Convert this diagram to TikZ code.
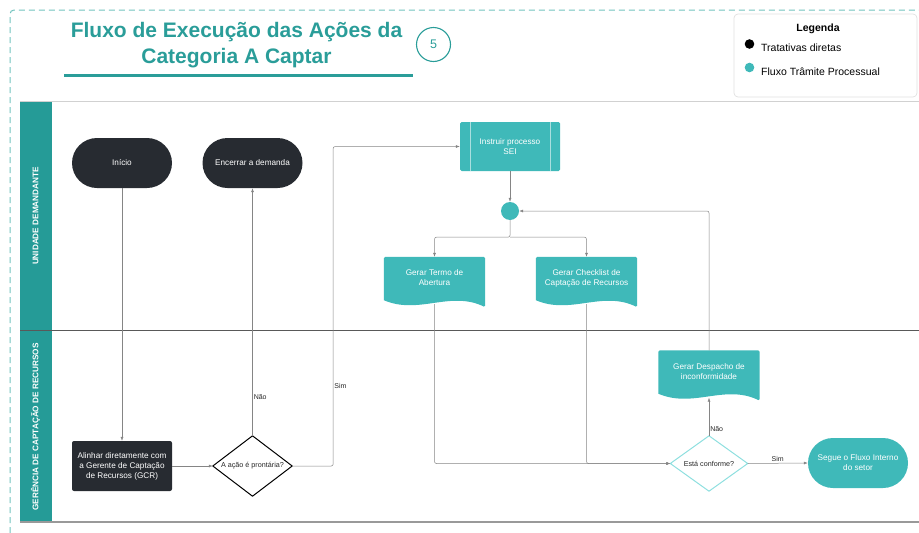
\documentclass[tikz,border=0pt]{standalone}
\usepackage{fontspec}
\setmainfont{Liberation Sans}
\usetikzlibrary{calc,arrows.meta,backgrounds}

\definecolor{tealdark}{HTML}{259B97}
\definecolor{tealnode}{HTML}{3FB9B9}
\definecolor{tealtitle}{HTML}{2A9D99}
\definecolor{tealdash}{HTML}{72C3BE}
\definecolor{tealedge}{HTML}{8EDFDF}
\definecolor{darknode}{HTML}{272B31}
\definecolor{conngray}{HTML}{858585}

\begin{document}
\begin{tikzpicture}[x=1pt,y=-1pt]
  % overall canvas
  \useasboundingbox (0,0) rectangle (919,533);

  % styles
  \tikzset{
    txt/.style={font=\fontsize{8.2}{10}\selectfont,text=white,align=center,inner sep=0pt},
    darkpill/.style={txt,fill=darknode,minimum width=100pt,minimum height=50pt,rounded corners=25pt},
    tealpill/.style={txt,fill=tealnode,minimum width=100pt,minimum height=50pt,rounded corners=25pt},
    darkbox/.style={txt,fill=darknode,minimum width=100pt,minimum height=50pt,rounded corners=2pt},
    procbox/.style={txt,fill=tealnode,minimum width=100pt,minimum height=49pt,rounded corners=1.5pt},
    docbox/.style={txt,minimum width=101pt,minimum height=42pt},
    dia/.style={font=\fontsize{7.2}{9}\selectfont,text=black!85,inner sep=0pt},
    lane/.style={font=\fontsize{8.2}{10}\selectfont\bfseries,text=white,rotate=90},
    conn/.style={draw=conngray,line width=0.5pt,rounded corners=2pt,-{Latex[length=4pt,width=3pt]}},
    lbl/.style={font=\fontsize{7}{8}\selectfont,text=black!85,inner sep=1pt},
    leg/.style={font=\fontsize{10.5}{12}\selectfont,anchor=west,inner sep=0pt},
  }

  % dashed outer frame
  \draw[tealdash,line width=1pt,dash pattern=on 6pt off 4pt,rounded corners=4pt]
    (10,533) -- (10,10) -- (919,10);

  % title
  \node[font=\fontsize{21}{26}\selectfont\bfseries,text=tealtitle,anchor=base] (title1) at (236.5,37) {Fluxo de Execução das Ações da};
  \node[font=\fontsize{21}{26}\selectfont\bfseries,text=tealtitle,anchor=base] (title2) at (236.5,63) {Categoria A Captar};
  \draw[tealtitle,line width=3pt] (64,75) -- (413,75);
  \node[circle,draw=tealtitle,line width=1.1pt,minimum size=34pt,inner sep=0pt,text=tealtitle,font=\fontsize{12.5}{14}\selectfont] (step) at (433.5,44.5) {5};

  % legend
  \draw[black!12,line width=0.7pt,rounded corners=4pt] (734,14) rectangle (917,97);
  \node[font=\fontsize{10.5}{12}\selectfont\bfseries] (legtitle) at (818,29) {Legenda};
  \fill[black] (749.5,44) circle (4.8pt);
  \node[leg] (leg1) at (761,48) {Tratativas diretas};
  \fill[tealnode] (749.5,67.5) circle (4.8pt);
  \node[leg] (leg2) at (761,71.5) {Fluxo Trâmite Processual};

  % swimlanes
  \fill[tealdark] (20,101) rectangle (51.5,522);
  \draw[black!18,line width=0.8pt] (20,101) -- (919,101);
  \draw[black!65,line width=0.9pt] (20,330) -- (919,330);
  \draw[black!40,line width=1.2pt] (20,522) -- (919,522);
  \node[lane] (lane1) at (35.5,216) {UNIDADE DEMANDANTE};
  \node[lane] (lane2) at (35.5,427) {GERÊNCIA DE CAPTAÇÃO DE RECURSOS};

  % --- nodes of the first lane ---
  \node[darkpill] (inicio) at (122,163) {Início};
  \node[darkpill] (encerrar) at (252.5,163) {Encerrar a demanda};
  \node[procbox] (instr) at (510,146.5) {Instruir processo\\SEI};
  \draw[white!55!tealnode,line width=0.6pt]
    ([xshift=10pt]instr.north west) -- ([xshift=10pt]instr.south west)
    ([xshift=-10pt]instr.north east) -- ([xshift=-10pt]instr.south east);
  \node[circle,fill=tealnode,minimum size=18pt,inner sep=0pt] (junc) at (510,211) {};
  \node[docbox] (termo) at (434.5,278) {Gerar Termo de\\Abertura};
  \node[docbox] (checklist) at (586.5,278) {Gerar Checklist de\\Captação de Recursos};

  % --- nodes of the second lane ---
  \node[darkbox] (alinhar) at (122,466) {Alinhar diretamente com\\a Gerente de Captação\\de Recursos (GCR)};
  \node[dia,minimum width=79pt,minimum height=60pt] (pront) at (252.5,466) {A ação é prontária?};
  \draw[black,line width=1pt,line join=round] (pront.north) -- (pront.east) -- (pront.south) -- (pront.west) -- cycle;
  \node[docbox] (despacho) at (709,371.5) {Gerar Despacho de\\inconformidade};
  \node[dia,minimum width=77pt,minimum height=55pt] (conf) at (709,463.5) {Está conforme?};
  \draw[tealedge,line width=1pt,line join=round] (conf.north) -- (conf.east) -- (conf.south) -- (conf.west) -- cycle;
  \node[tealpill] (segue) at (858,463) {Segue o Fluxo Interno\\do setor};

  % wavy document shapes
  \begin{scope}[on background layer]
    \foreach \n in {termo,checklist,despacho}
      \fill[tealnode,rounded corners=1.5pt] (\n.south west) -- (\n.north west) -- (\n.north east)
        -- ($(\n.south east)+(0,8)$) [sharp corners]
        .. controls ($(\n.south east)+(-35,-9)$) and ($(\n.south west)+(35,16)$) .. ($(\n.south west)+(0,1)$) -- cycle;
  \end{scope}

  % connectors
  \draw[conn] (inicio.south) -- (alinhar.north);
  \draw[conn] (alinhar.east) -- (pront.west);
  \draw[conn] (pront.north) -- node[lbl,pos=0.157,right] {Não} (encerrar.south);
  \draw[conn] (pront.east) -- ++(41,0) |- node[lbl,pos=0.125,right] {Sim} (instr.west);
  \draw[conn] (instr.south) -- (junc.north);
  \draw[conn] (junc.south) -- ++(0,17) coordinate (fork) -| (termo.north);
  \draw[conn] (fork) -| (checklist.north);
  \draw[conn] ([yshift=-5pt]termo.south) |- (conf.west);
  \draw[conn] ([yshift=-5pt]checklist.south) |- (conf.west);
  \draw[conn] (conf.north) -- node[lbl,pos=0.18,right] {Não} ([yshift=-5pt]despacho.south);
  \draw[conn] (despacho.north) |- (junc.east);
  \draw[conn] (conf.east) -- node[lbl,above] {Sim} (segue.west);
\end{tikzpicture}
\end{document}
